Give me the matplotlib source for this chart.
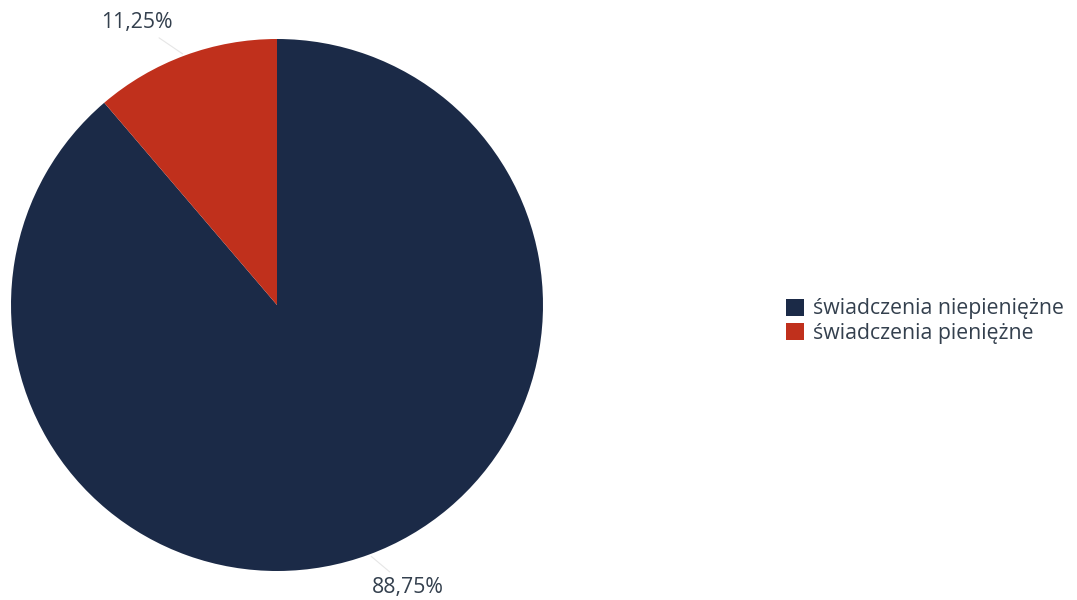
import numpy as np
import matplotlib.pyplot as plt

# data
labels = ['świadczenia niepieniężne', 'świadczenia pieniężne']
shares = [88.75, 11.25]
colors = ['#1b2a47', '#c0301c']
pct_text = ['88,75%', '11,25%']

plt.rcParams['font.family'] = ['Open Sans', 'DejaVu Sans']
text_color = '#34404e'

fig = plt.figure(figsize=(10.77, 6.0), dpi=100)
# axes sized to the circle (centre 277,305 px, radius 266 px)
ax = fig.add_axes([11 / 1077, 29 / 600, 532 / 1077, 532 / 600])

wedges, _ = ax.pie(shares, colors=colors, startangle=90, counterclock=False,
                   radius=1, wedgeprops=dict(linewidth=0))
ax.set_xlim(-1, 1)
ax.set_ylim(-1, 1)
ax.set_aspect('equal')
ax.axis('off')

# outside labels with faint leader lines
for w, txt in zip(wedges, pct_text):
    mid = np.deg2rad((w.theta1 + w.theta2) / 2)
    x, y = np.cos(mid), np.sin(mid)
    tx, ty = x * 1.13, y * 1.13
    if x > 0:
        ha = 'left'
        tx -= 0.035
    else:
        ha = 'right'
    ax.annotate(txt, xy=(x, y), xytext=(tx, ty), ha=ha, va='center',
                fontsize=15.3, color=text_color, annotation_clip=False,
                arrowprops=dict(arrowstyle='-', color='#e6e6e6', lw=0.8))

fig.legend(wedges, labels, loc='center left',
           bbox_to_anchor=(767 / 1077, 1 - 321 / 600), frameon=False,
           fontsize=15.3, labelcolor=text_color, handlelength=0.85,
           handleheight=0.85, handletextpad=0.4, labelspacing=0.15)

fig.savefig('out.png', dpi=100)
